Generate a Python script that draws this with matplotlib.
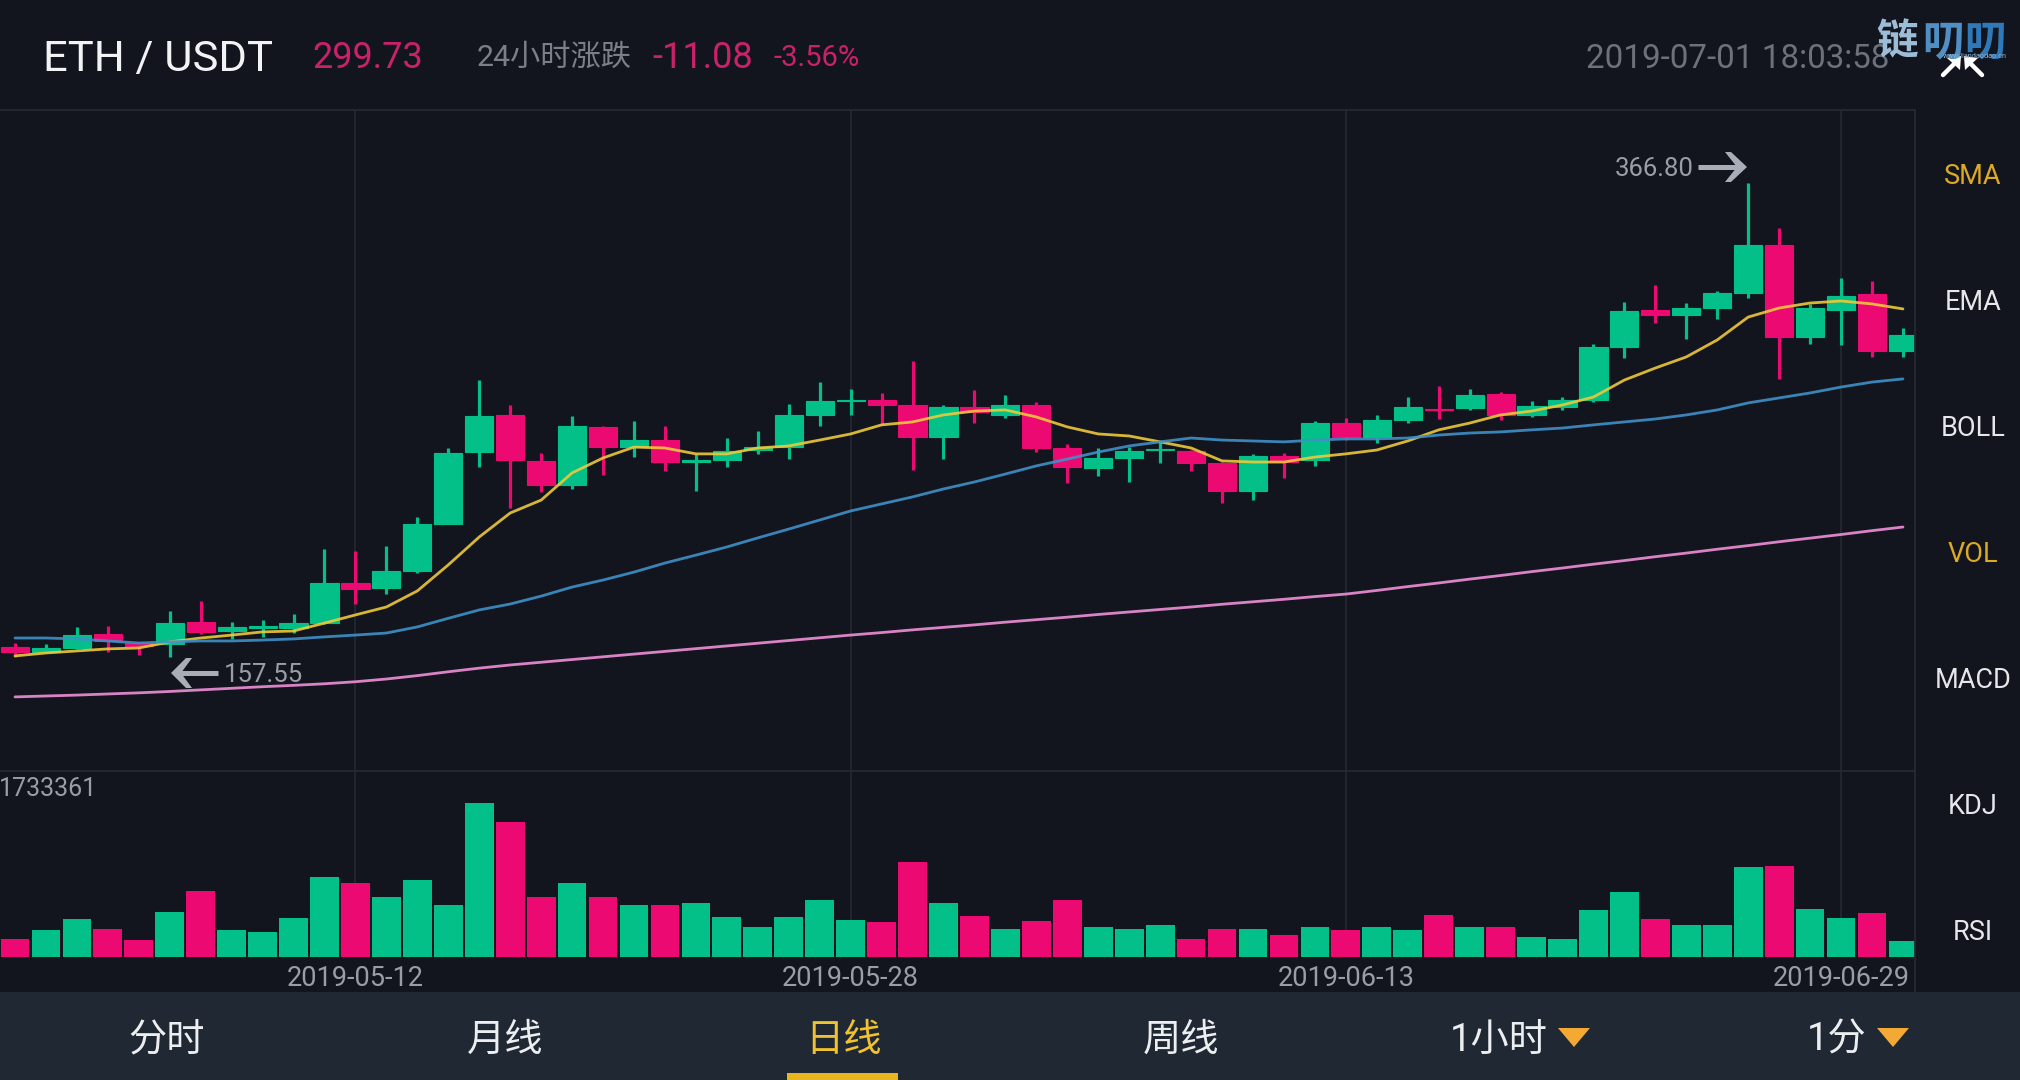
import matplotlib
matplotlib.use("Agg")
import matplotlib.pyplot as plt
from matplotlib.patches import Polygon, Rectangle

plt.rcParams['font.family'] = ['Roboto', 'Noto Sans CJK SC', 'DejaVu Sans']

# ---------- data ----------
opens = [161.9,159.7,161.5,167.7,163.7,163.3,173.0,169.0,170.3,170.3,172.5,190.2,188.0,195.5,216.3,248.0,
         264.4,244.2,233.5,259.2,250.2,253.3,243.8,244.5,248.9,250.4,264.4,270.6,271.0,268.8,254.7,268.0,
         264.4,268.8,249.8,241.1,245.4,248.9,248.6,243.3,230.8,246.3,244.5,260.8,254.7,262.2,267.0,267.5,
         273.6,264.4,267.9,271.0,294.4,310.7,308.5,311.6,318.2,339.4,298.8,310.7,317.8,292.6]
highs = [163.7,163.3,170.8,171.2,164.2,177.8,182.3,173.0,173.9,176.5,205.2,204.3,206.5,219.3,249.8,279.8,
         268.8,247.7,263.9,259.5,261.7,259.7,247.2,254.2,257.3,269.2,279.1,275.9,274.1,288.4,268.8,275.4,
         273.2,270.3,251.6,249.8,250.4,252.6,248.9,243.6,247.2,247.7,261.7,263.1,264.4,272.5,277.2,275.9,
         274.5,270.6,272.3,295.7,314.3,321.8,313.8,319.1,366.80,346.9,313.4,324.9,323.5,302.8]
lows = [157.6,159.3,161.1,159.7,158.4,157.55,167.7,165.5,166.4,168.1,172.0,180.9,185.3,194.6,216.3,241.4,
        223.3,230.4,231.7,237.9,245.8,239.8,230.8,241.4,247.2,245.0,259.7,264.4,260.0,240.1,245.0,260.8,
        263.1,248.2,234.4,237.4,234.8,243.2,239.8,225.7,226.8,236.6,241.9,253.3,252.0,260.8,262.6,266.6,
        262.2,263.5,266.6,270.1,289.5,305.0,297.9,306.8,316.0,280.3,295.7,295.3,290.0,290.0]
closes = [159.7,161.5,167.2,164.6,162.4,172.5,168.6,170.8,171.2,172.5,190.2,187.6,195.5,216.3,247.7,263.9,
          244.5,233.5,259.5,250.2,253.3,243.6,244.5,248.6,250.2,264.4,270.6,271.0,268.8,254.7,268.0,265.8,
          268.8,249.8,241.4,245.5,248.6,249.4,243.3,230.8,246.3,243.7,260.8,254.7,262.2,268.0,266.7,273.2,
          264.4,268.4,271.0,294.4,310.3,308.5,311.6,318.2,339.4,298.8,311.6,316.9,292.6,299.7]
volumes = [207000,301000,426000,320000,188000,512000,742000,301000,286000,437000,897000,836000,674000,870000,
           592000,1733361,1526000,674000,836000,674000,592000,592000,610000,456000,343000,456000,644000,418000,
           396000,1066000,610000,460000,313000,403000,648000,343000,313000,365000,200000,320000,320000,249000,
           343000,309000,343000,305000,479000,343000,343000,230000,207000,535000,735000,426000,362000,362000,
           1010000,1029000,539000,437000,494000,177000]
ma_yellow = [158.0,159.3,160.2,161.1,161.5,164.2,165.9,167.2,168.6,169.0,172.5,176.1,179.6,186.7,198.2,210.5,
             221.1,226.8,238.8,245.4,250.2,249.8,247.2,247.2,249.8,250.7,253.3,256.0,260.0,261.3,264.4,266.1,
             266.6,263.5,259.1,256.0,255.1,252.5,249.8,244.1,243.6,243.6,245.8,247.2,248.9,252.9,257.8,260.8,
             264.4,266.1,268.8,272.3,279.8,285.1,290.0,297.5,307.6,311.6,313.8,314.7,313.4,311.2]
ma_blue = [165.9,165.9,165.5,164.6,163.7,164.2,164.6,164.6,165.0,165.5,166.4,167.2,168.1,170.8,174.6,178.3,
           180.9,184.4,188.4,191.5,195.0,199.0,202.5,206.1,210.1,214.0,218.0,222.0,225.1,228.2,231.7,234.8,
           238.3,241.9,244.9,248.0,250.7,252.5,254.2,253.3,252.9,252.5,253.3,253.8,253.8,254.2,255.5,256.4,
           256.9,257.8,258.6,260.0,261.3,262.6,264.4,266.6,269.7,271.9,274.1,276.7,278.9,280.3]
ma_pink = [139.9,140.3,140.7,141.2,141.7,142.3,143.0,143.7,144.4,145.0,145.7,146.6,147.8,149.3,151.0,152.6,
           154.0,155.2,156.4,157.6,158.8,160.0,161.2,162.4,163.6,164.8,166.0,167.2,168.3,169.5,170.6,171.7,
           172.9,174.0,175.1,176.3,177.4,178.5,179.6,180.8,181.9,183.0,184.2,185.3,186.9,188.6,190.2,191.9,
           193.5,195.2,196.8,198.5,200.1,201.8,203.4,205.1,206.7,208.4,210.0,211.6,213.3,214.9]
tick_index = [11, 27, 43, 59]
tick_labels = ['2019-05-12', '2019-05-28', '2019-06-13', '2019-06-29']
side_menu = ['SMA', 'EMA', 'BOLL', 'VOL', 'MACD', 'KDJ', 'RSI']
side_active = ['SMA', 'VOL']
tabs = ['分时', '月线', '日线', '周线', '1小时', '1分']

# ---------- styles ----------
BG = '#12151d'; BAR = '#1f2833'; GREEN = '#02c087'; RED = '#ec0a72'
GRID = '#262a33'; GREY = '#9a9da6'; GOLD = '#dcaa25'
x = list(range(len(opens)))
colors = [GREEN if c >= o else RED for o, c in zip(opens, closes)]

fig = plt.figure(figsize=(20.2, 10.8), dpi=100, facecolor=BG)
W, H = 2020, 1080
xlim = (-15 / 30.95, 1900 / 30.95)

ax = fig.add_axes([0, (H - 770) / H, 1915 / W, 660 / H], facecolor=BG)
vol = fig.add_axes([0, (H - 957) / H, 1915 / W, 186 / H], facecolor='none')
for a in (ax, vol):
    a.set_xlim(*xlim)
    a.set_xticks(tick_index)
    a.grid(axis='x', color=GRID, lw=1.1, zorder=0)
    a.set_axisbelow(True)
    a.tick_params(length=0)
    a.set_yticks([])
    for s in a.spines.values():
        s.set_visible(False)

# candles
ax.set_ylim(107.63, 399.02)
ax.set_xticklabels([])
ax.vlines(x, lows, highs, colors=colors, lw=2.3, zorder=2)
ax.bar(x, [abs(c - o) for o, c in zip(opens, closes)], bottom=[min(o, c) for o, c in zip(opens, closes)],
       width=0.91, color=colors, edgecolor=colors, lw=0.8, zorder=3)
ax.plot(x, ma_yellow, color='#eec93a', lw=2.0, alpha=0.9, zorder=4, solid_capstyle='round')
ax.plot(x, ma_blue, color='#3f90c8', lw=2.0, alpha=0.9, zorder=4, solid_capstyle='round')
ax.plot(x, ma_pink, color='#d982c6', lw=2.0, zorder=4, solid_capstyle='round')

# volume
vol.set_ylim(0, 2097700)
vol.bar(x, volumes, width=0.93, color=colors, zorder=3)
vol.set_xticklabels(tick_labels, color=GREY, fontsize=19.5)
vol.tick_params(axis='x', pad=6)

# ---------- overlay in pixels ----------
ov = fig.add_axes([0, 0, 1, 1], facecolor='none')
ov.set_xlim(0, W); ov.set_ylim(H, 0); ov.axis('off')

ov.plot([0, 1915], [110, 110], color=GRID, lw=1.3)
ov.plot([0, 1915], [771, 771], color=GRID, lw=1.3)
ov.plot([1915, 1915], [110, 992], color=GRID, lw=1.3)
ov.add_patch(Rectangle((0, 992), W, 88, color=BAR, lw=0))
ov.add_patch(Rectangle((787, 1073), 111, 7, color='#e8b51f', lw=0))

def t(px, py, s, size, color, ha='left', **kw):
    ov.text(px, py, s, fontsize=size, color=color, ha=ha, va='center', **kw)

t(43, 59, 'ETH / USDT', 31.3, '#f2f3f5')
t(312, 58.5, '299.73', 26, '#c9216a')
t(477, 58, '24小时涨跌', 21.8, '#7b7f88')
t(652, 58.5, '-11.08', 26, '#c9216a')
t(774, 58, '-3.56%', 21, '#c9216a')
t(1586, 58.5, '2019-07-01 18:03:58', 23.9, '#6d7179')

# extreme price markers
ARROW = '#a9adb8'
t(1694, 168.5, f'{max(highs):.2f}', 18.5, GREY, ha='right')
ov.plot([1698, 1742], [167, 167], color=ARROW, lw=3.6, solid_capstyle='butt')
ov.add_patch(Polygon([(1725, 152), (1731, 152), (1747, 167), (1731, 182), (1725, 182), (1737, 167)], color=ARROW, lw=0))
t(224, 675, f'{min(lows):.2f}', 18.5, GREY)
ov.plot([176, 218], [673, 673], color=ARROW, lw=3.6, solid_capstyle='butt')
ov.add_patch(Polygon([(192, 658), (186, 658), (171, 673), (186, 688), (192, 688), (181, 673)], color=ARROW, lw=0))
t(-1, 788.5, f'{max(volumes)}', 18, GREY)

# side menu
for i, s in enumerate(side_menu):
    t(1973, 176.5 + i * 126, s, 19.5, GOLD if s in side_active else '#e6e7ea', ha='center')

# bottom tabs
tab_x = [167, 505, 844, 1181, 1499, 1837]
for s, px in zip(tabs, tab_x):
    t(px, 1040, s, 27.5, '#f2c12e' if s == '日线' else '#eceef0', ha='center')
for cx in (1574, 1893):
    ov.add_patch(Polygon([(cx - 16, 1028), (cx + 16, 1028), (cx, 1047)], color='#f5a935', lw=0))

# collapse icon
for x0, x1 in ((1943, 1958), (1982, 1967)):
    ov.plot([x0, x1], [75, 60], color='white', lw=3.2, solid_capstyle='round')
    sgn = 1 if x1 > x0 else -1
    ov.add_patch(Polygon([(x1 + sgn * 3, 56), (x1 - sgn * 11, 58), (x1 + sgn * 2, 70)], color='white', lw=0))

# watermark
for s, px, c in (('链', 1897, '#9dbcd6'), ('叨', 1943, '#4f8fc4'), ('叨', 1985, '#2f79b8')):
    t(px, 43, s, 30, c, ha='center', fontweight='bold')
t(1943, 56, 'www.liandaodao.cn', 5.2, '#8fb0cc')

fig.savefig('out.png', dpi=100, facecolor=BG)
